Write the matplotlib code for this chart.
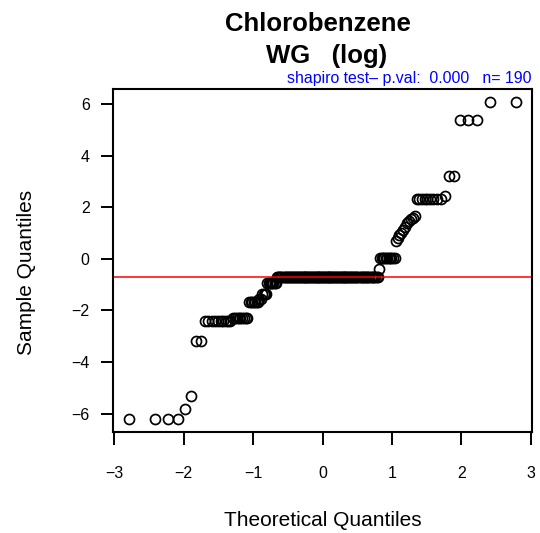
import numpy as np
import matplotlib
matplotlib.use("Agg")
import matplotlib.pyplot as plt
from statistics import NormalDist

plt.rcParams['font.family'] = ['Liberation Sans', 'DejaVu Sans']

# tied sample values (sorted) and how many times each one occurs
sample_values = [-6.21, -5.83, -5.31, -3.19, -2.40, -2.29, -1.67, -1.55, -1.37, -0.92,
                 -0.70, -0.40, 0.02, 0.70, 0.80, 0.92, 1.00, 1.11, 1.24, 1.37,
                 1.45, 1.55, 1.60, 1.65, 2.33, 2.42, 3.22, 5.40, 6.09]
sample_counts = [4, 1, 1, 2, 10, 9, 7, 2, 4, 8,
                 102, 1, 11, 1, 1, 1, 1, 1, 1, 1,
                 1, 1, 1, 1, 9, 1, 2, 3, 2]

title_1 = "Chlorobenzene"
title_2 = "WG   (log)"
subtitle = "shapiro test\u2013 p.val:  0.000   n= 190"
x_ticks = [-3, -2, -1, 0, 1, 2, 3]
y_ticks = [-6, -4, -2, 0, 2, 4, 6]

y = np.repeat(sample_values, sample_counts)
n = len(y)
# qqnorm: theoretical quantiles from ppoints(n)
nd = NormalDist()
x = np.array([nd.inv_cdf((i - 0.5) / n) for i in range(1, n + 1)])

fig = plt.figure(figsize=(5.4, 5.33), dpi=100)
ax = fig.add_axes([0.2099, 0.190, 0.775, 0.643])

ax.plot(x, y, linestyle='none', marker='o', markersize=7.2,
        markerfacecolor='none', markeredgecolor='black', markeredgewidth=1.25)
ax.axhline(np.median(y), color='red', linewidth=1.1)

# R-style 4% padding
xr = x.max() - x.min()
yr = y.max() - y.min()
ax.set_xlim(x.min() - 0.04 * xr, x.max() + 0.04 * xr)
ax.set_ylim(y.min() - 0.04 * yr, y.max() + 0.04 * yr)

ax.set_xticks(x_ticks)
ax.set_yticks(y_ticks)
ax.set_xticklabels([str(t).replace('-', '\u2212') for t in x_ticks])
ax.set_yticklabels([str(t).replace('-', '\u2212') for t in y_ticks])
ax.tick_params(axis='both', direction='out', length=9, width=1.4, labelsize=11.5)
ax.tick_params(axis='x', pad=16)
ax.tick_params(axis='y', pad=8)
for s in ax.spines.values():
    s.set_linewidth(1.5)

fig.text(0.050, 0.488, "Sample Quantiles", rotation=90, ha='center', va='center', fontsize=15)
fig.text(0.5975, 0.023, "Theoretical Quantiles", ha='center', va='center', fontsize=15)
fig.text(318 / 540, 1 - 30.7 / 533, title_1, ha='center', va='baseline', fontsize=18.5,
         fontweight='bold')
fig.text(327 / 540, 1 - 63.3 / 533, title_2, ha='center', va='baseline', fontsize=18.5,
         fontweight='bold')
fig.text(0.985, 1 - 83.3 / 533, subtitle, ha='right', va='baseline', fontsize=11.4, color='blue')

fig.savefig("out.png", dpi=100)
